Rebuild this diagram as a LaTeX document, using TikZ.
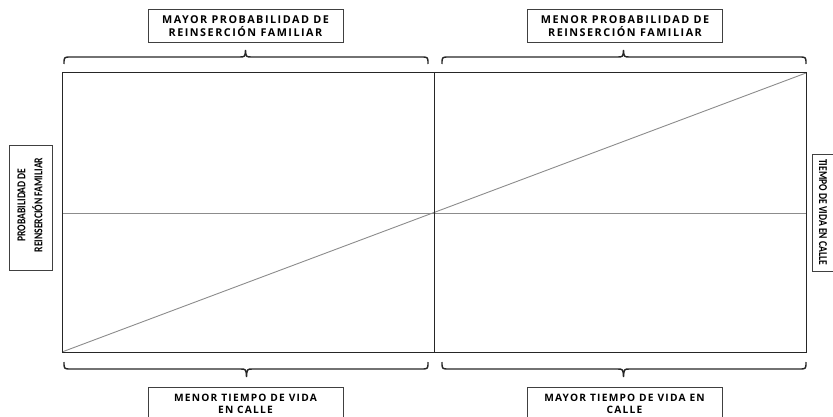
\documentclass[tikz,border=0pt]{standalone}
\usepackage{fontspec}
\setmainfont{Open Sans}
\newfontfamily\boxfont[LetterSpace=12]{Open Sans}
\newfontfamily\topfont[LetterSpace=14]{Open Sans}
\newfontfamily\narrowfont[FakeStretch=0.8]{Carlito}
\begin{document}
\begin{tikzpicture}[x=1pt,y=-1pt,
  lbl/.style={draw=black!75,line width=1pt,fill=white,inner sep=0pt,align=center,font=\boxfont\bfseries\fontsize{10.2}{12.5}\selectfont},
  toplbl/.style={lbl,font=\topfont\bfseries\fontsize{10.8}{12.8}\selectfont},
  side/.style={align=center,font=\narrowfont\bfseries\fontsize{12}{17}\selectfont,inner sep=0pt},
  brace/.style={line width=1.4pt,black!85},
  frame/.style={line width=1pt,black!85},
  thin/.style={line width=0.9pt,black!45}]
\useasboundingbox (0,0) rectangle (833,417);
\clip (0,0) rectangle (833,417);
% main frame
\coordinate (TL) at (62,73);
\coordinate (TR) at (806,73);
\coordinate (BL) at (62,352);
\coordinate (BR) at (806,352);
\coordinate (TM) at (434,73);
\coordinate (BM) at (434,352);
\coordinate (ML) at (62,213);
\coordinate (MR) at (806,213);
\draw[thin] (ML) -- (MR);
\draw[thin] (BL) -- (TR);
\draw[frame] (TL) rectangle (BR);
\draw[frame] (TM) -- (BM);
% top boxes
\node[toplbl,minimum width=195pt,minimum height=33pt] (tl) at (245.5,26.5) {MAYOR PROBABILIDAD DE\\REINSERCIÓN FAMILIAR};
\node[toplbl,minimum width=195pt,minimum height=33pt] (tr) at (625,26.5) {MENOR PROBABILIDAD DE\\REINSERCIÓN FAMILIAR};
% bottom boxes
\draw[draw=black!75,line width=1pt] (148,387) rectangle (343,425);
\draw[draw=black!75,line width=1pt] (527,387) rectangle (722,425);
\node[lbl,draw=none,fill=none] (bl) at (245.5,404) {MENOR TIEMPO DE VIDA\\EN CALLE};
\node[lbl,draw=none,fill=none] (br) at (624.5,404) {MAYOR TIEMPO DE VIDA EN\\CALLE};
% side boxes
\draw[draw=black!75,line width=1pt] (9,146) rectangle (52,270);
\node[side,rotate=90] (sl) at (30,205) {PROBABILIDAD DE\\REINSERCIÓN FAMILIAR};
\draw[draw=black!75,line width=1pt] (812,155) rectangle (840,271);
\node[side,rotate=-90] (sr) at (823,212) {TIEMPO DE VIDA EN CALLE};
% top braces
\draw[brace] (64,64) .. controls (64,57) .. (71,57) -- (239,57) .. controls (245,57) .. (245.5,50) .. controls (246,57) .. (252,57) -- (421,57) .. controls (428,57) .. (428,64);
\draw[brace] (442,64) .. controls (442,57) .. (449,57) -- (617,57) .. controls (623,57) .. (623.5,50) .. controls (624,57) .. (630,57) -- (799,57) .. controls (806,57) .. (806,64);
% bottom braces
\draw[brace] (64,362) .. controls (64,369) .. (71,369) -- (240,369) .. controls (246,369) .. (246.5,377) .. controls (247,369) .. (253,369) -- (421,369) .. controls (428,369) .. (428,362);
\draw[brace] (442,362) .. controls (442,369) .. (449,369) -- (617,369) .. controls (623,369) .. (623.5,377) .. controls (624,369) .. (630,369) -- (799,369) .. controls (806,369) .. (806,362);
\end{tikzpicture}
\end{document}
